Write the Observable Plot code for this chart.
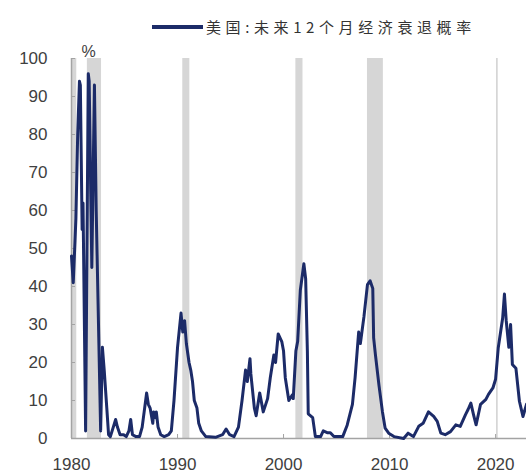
<!DOCTYPE html>
<html>
<head>
<meta charset="utf-8">
<script src="https://cdn.jsdelivr.net/npm/d3@7"></script>
<script src="https://cdn.jsdelivr.net/npm/@observablehq/plot@0.6"></script>
<style>
  html, body { margin: 0; padding: 0; background: #fff; }
  #chart { width: 526px; height: 475px; overflow: hidden; }
  .legend { position: relative; height: 38px; }
  .legend .swatch { position: absolute; left: 152px; top: 25px; width: 51px; height: 4px; background: #1c2b68; }
  .legend .label { position: absolute; left: 206px; top: 16px; font: 15px "Noto Sans CJK SC", sans-serif; letter-spacing: 4.6px; color: #333; white-space: nowrap; }
</style>
</head>
<body>
<div id="chart">
  <div class="legend"><div class="swatch"></div><span class="label">美国:未来12个月经济衰退概率</span></div>
</div>
<script>
// US: probability of recession over the next 12 months (%), by month
const months = [
  "1980-01","1980-03","1980-05","1980-06","1980-08","1980-10","1980-11","1981-01","1981-02","1981-05",
  "1981-08","1981-09","1981-12","1982-03","1982-05","1982-10","1982-12","1983-02","1983-05","1983-07",
  "1983-09","1983-11","1984-03","1984-05","1984-08","1984-12","1985-03","1985-06","1985-08","1985-10",
  "1986-02","1986-06","1986-09","1987-02","1987-04","1987-06","1987-09","1987-10","1987-12","1988-01",
  "1988-03","1988-06","1988-10","1989-03","1989-06","1989-09","1990-01","1990-05","1990-07","1990-09",
  "1990-11","1991-02","1991-04","1991-06","1991-08","1991-11","1992-01","1992-04","1992-09","1993-08",
  "1994-04","1994-08","1994-12","1995-05","1995-10","1996-02","1996-06","1996-08","1996-11","1996-12",
  "1997-04","1997-06","1997-10","1998-02","1998-07","1998-10","1999-02","1999-04","1999-07","1999-11",
  "2000-01","2000-03","2000-07","2000-11","2000-12","2001-03","2001-05","2001-08","2001-12","2002-02",
  "2002-04","2002-05","2002-10","2003-01","2003-07","2003-10","2004-03","2004-06","2004-10","2005-08",
  "2006-01","2006-07","2006-10","2007-02","2007-04","2007-08","2007-12","2008-03","2008-06","2008-07",
  "2008-09","2009-01","2009-05","2009-08","2009-12","2010-06","2011-05","2011-10","2012-04","2012-10",
  "2013-03","2013-09","2014-03","2014-07","2014-11","2015-04","2015-10","2016-04","2016-09","2017-03",
  "2017-06","2017-09","2017-12","2018-03","2018-08","2019-02","2019-05","2019-10","2020-01","2020-04",
  "2020-09","2020-11","2021-01","2021-04","2021-06","2021-08","2021-12","2022-04","2022-08","2022-12"
];
const probability = [
  48, 41, 52, 58, 80, 94, 93, 55, 62, 2,
  96, 94, 45, 93, 60, 2, 24, 18, 8, 1,
  0.5, 2, 5, 3, 1, 1, 0.5, 2, 5, 1,
  0.5, 0.5, 3, 12, 9, 8, 4, 7, 5.5, 7,
  3, 1, 0.5, 1, 2, 10, 24, 33, 28, 31,
  25, 20, 18, 15, 10, 8, 4, 2, 0.5, 0.3,
  1, 2.5, 1, 0.5, 3, 10, 18, 15, 21, 17,
  8, 6, 12, 7, 10.5, 16, 22, 20, 27.5, 25.5,
  23, 16, 10, 11.5, 10.5, 23, 25.5, 39, 46, 42,
  23, 6.5, 5.5, 0.5, 0.5, 2, 1.5, 1.5, 0.5, 0.5,
  3.5, 9, 16, 28, 25, 32, 40.5, 41.5, 39.5, 26.5,
  22, 14, 7, 2.7, 1.4, 0.5, 0, 1.4, 0.5, 3.2,
  4, 7, 5.8, 4.5, 1.4, 1, 1.8, 3.6, 3.2, 6.3,
  7.7, 9.3, 6.3, 3.6, 9, 10.3, 11.6, 13.3, 15.6, 23.8,
  31.7, 38, 31, 24, 30, 19.5, 18.5, 9.8, 5.8, 9
];

// NBER recession periods (start, end)
const recessionStarts = ["1980-01", "1981-07", "1990-07", "2001-03", "2007-12", "2020-02"];
const recessionEnds   = ["1980-07", "1982-11", "1991-03", "2001-11", "2009-06", "2020-04"];

const yTicks = [0, 10, 20, 30, 40, 50, 60, 70, 80, 90, 100];
const xTickYears = ["1980", "1990", "2000", "2010", "2020"];
const xStart = "1980-01";
const xEnd = "2022-12";

const parse = d3.utcParse("%Y-%m");
const parseYear = d3.utcParse("%Y");

const series = months.map((m, i) => ({date: parse(m), value: probability[i]}));
const recessions = recessionStarts.map((s, i) => ({start: parse(s), end: parse(recessionEnds[i])}));
const xDomain = [parse(xStart), parse(xEnd)];

const navy = "#1c2b68";
const axisGrey = "#a3a3a3";

const chart = Plot.plot({
  width: 526,
  height: 437,
  marginLeft: 71,
  marginRight: 0,
  marginTop: 20,
  marginBottom: 37,
  style: {fontFamily: "'Liberation Sans', Arial, sans-serif", fontSize: "17px", color: "#404040", background: "#fff"},
  x: {type: "utc", domain: xDomain},
  y: {domain: [0, 100]},
  marks: [
    Plot.rect(recessions, {x1: "start", x2: "end", fill: "#d6d6d6"}),
    Plot.ruleY([0], {stroke: axisGrey, strokeWidth: 1.5}),
    Plot.ruleX([xDomain[0]], {stroke: axisGrey, strokeWidth: 1.5}),
    Plot.axisY({ticks: yTicks, tickSize: -4, tickPadding: 28, stroke: axisGrey, fill: "#404040", label: null}),
    Plot.axisX({ticks: xTickYears.map(parseYear), tickFormat: d3.utcFormat("%Y"), tickSize: -4, tickPadding: 23, stroke: axisGrey, fill: "#404040", label: null}),
    Plot.line(series, {x: "date", y: "value", stroke: navy, strokeWidth: 3, strokeLinejoin: "round"}),
    Plot.text(["%"], {frameAnchor: "top-left", dx: 10, dy: -13, fontSize: 16, fill: "#404040"})
  ]
});

document.getElementById("chart").appendChild(chart);
</script>
</body>
</html>
